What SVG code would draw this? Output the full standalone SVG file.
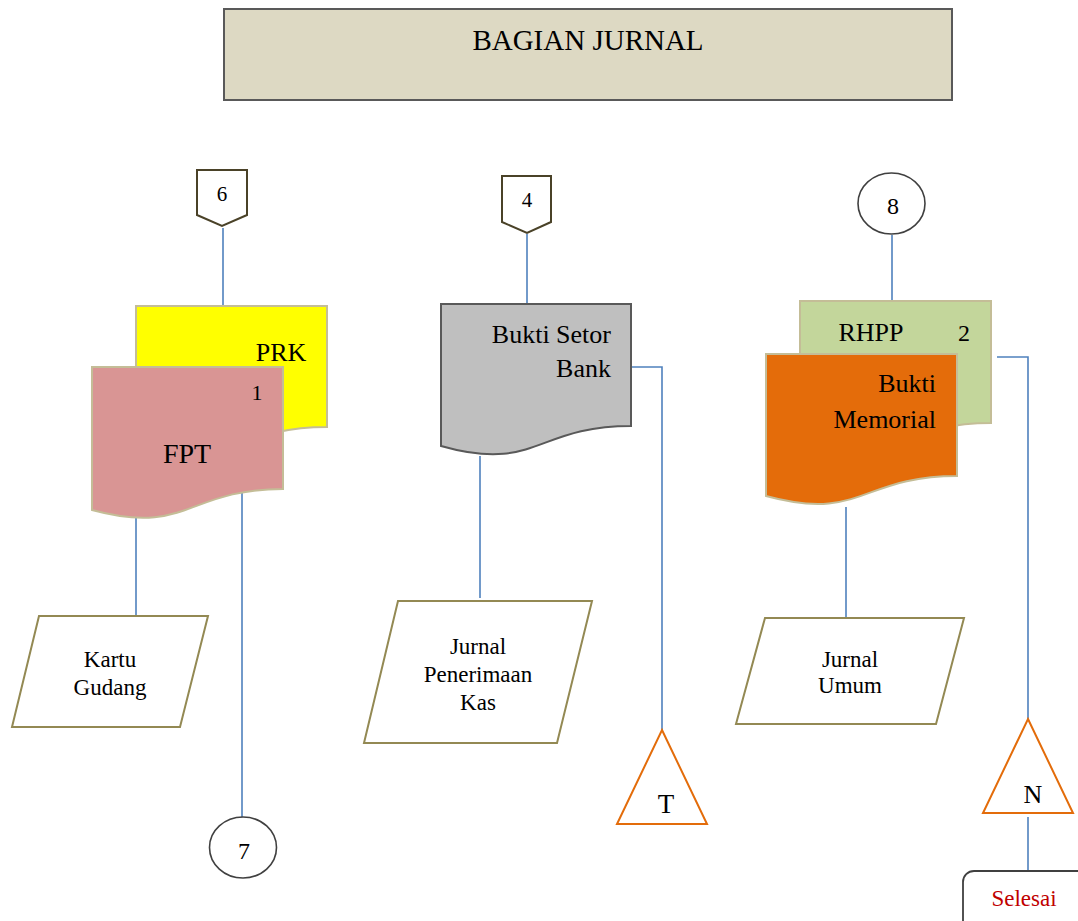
<svg xmlns="http://www.w3.org/2000/svg" width="1078" height="921" viewBox="0 0 1078 921">
<style>
text{font-family:"Liberation Serif","Times New Roman",serif;fill:#000}
.conn{stroke:#4F81BD;stroke-width:1.6;fill:none}
.doc{stroke:#C4BD97;stroke-width:2}
.para{fill:#fff;stroke:#938953;stroke-width:2}
.tri{fill:#fff;stroke:#E36C0A;stroke-width:2}
.off{fill:#fff;stroke:#4A4228;stroke-width:2}
.circ{fill:#fff;stroke:#404040;stroke-width:1.6}
.t26{font-size:26px}
.t23{font-size:23px}
.mid{text-anchor:middle}
.end{text-anchor:end}
</style>
<rect width="1078" height="921" fill="#fff"/>
<g id="title">
<rect x="224" y="9" width="728" height="91" fill="#DDD9C3" stroke="#595959" stroke-width="2"/>
<text x="588" y="50" class="mid" font-size="29">BAGIAN JURNAL</text>
</g>
<g id="connectors">
<line class="conn" x1="223" y1="228" x2="223" y2="306"/>
<line class="conn" x1="136" y1="516" x2="136" y2="616"/>
<line class="conn" x1="242" y1="490" x2="242" y2="817"/>
<line class="conn" x1="527" y1="234" x2="527" y2="305"/>
<polyline class="conn" points="631,367 662,367 662,730"/>
<line class="conn" x1="480" y1="456" x2="480" y2="598"/>
<line class="conn" x1="892" y1="235" x2="892" y2="301"/>
<polyline class="conn" points="997,357 1028,357 1028,719"/>
<line class="conn" x1="846" y1="507" x2="846" y2="618"/>
<line class="conn" x1="1028" y1="817" x2="1028" y2="871"/>
</g>
<g id="off6">
<path class="off" d="M197,170 H247 V215 L222,226 L197,215 Z"/>
<text x="222" y="201" class="mid" font-size="21">6</text>
</g>
<g id="prk">
<path class="doc" fill="#FFFF00" d="M136,306 H327 V427 C231.5,427 231.5,473 136,447 Z"/>
<text x="281" y="361" class="mid t26">PRK</text>
</g>
<g id="fpt">
<path class="doc" fill="#D99594" d="M92,367 H283 V489 C187.5,489 187.5,536 92,510 Z"/>
<text x="257" y="400" class="mid" font-size="22">1</text>
<text x="187" y="463" class="mid" font-size="28">FPT</text>
</g>
<g id="kartu">
<polygon class="para" points="39,616 208,616 180,727 12,727"/>
<text x="110" y="667" class="mid t23">Kartu</text>
<text x="110" y="695" class="mid t23">Gudang</text>
</g>
<g id="c7">
<ellipse class="circ" cx="243" cy="847.5" rx="33.5" ry="30.5"/>
<text x="244" y="859" class="mid" font-size="24">7</text>
</g>
<g id="off4">
<path class="off" d="M502,176 H551 V222 L527,233 L502,222 Z"/>
<text x="527" y="207" class="mid" font-size="21">4</text>
</g>
<g id="bsb">
<path fill="#BFBFBF" stroke="#595959" stroke-width="2" d="M441,304 H631 V426 C536,426 536,473 441,446 Z"/>
<text x="611" y="343" class="end t26">Bukti Setor</text>
<text x="611" y="377" class="end t26">Bank</text>
</g>
<g id="jpk">
<polygon class="para" points="398,601 592,601 557,743 364,743"/>
<text x="478" y="654" class="mid t23">Jurnal</text>
<text x="478" y="682" class="mid t23">Penerimaan</text>
<text x="478" y="710" class="mid t23">Kas</text>
</g>
<g id="triT">
<polygon class="tri" points="662,730 707,824 617,824"/>
<text x="666" y="813" class="mid" font-size="27">T</text>
</g>
<g id="c8">
<ellipse class="circ" cx="891.5" cy="203.5" rx="33.5" ry="30.5"/>
<text x="893" y="214" class="mid" font-size="24">8</text>
</g>
<g id="rhpp">
<path class="doc" fill="#C3D69B" d="M800,301 H991 V423 C895.5,423 895.5,469 800,443 Z"/>
<text x="871" y="341" class="mid t26">RHPP</text>
<text x="964" y="341" class="mid" font-size="24">2</text>
</g>
<g id="bm">
<path class="doc" fill="#E46C0A" d="M766,354 H957 V476 C861.5,476 861.5,522 766,496 Z"/>
<text x="936" y="392" class="end t26">Bukti</text>
<text x="936" y="428" class="end t26">Memorial</text>
</g>
<g id="ju">
<polygon class="para" points="765,618 964,618 936,724 736,724"/>
<text x="850" y="667" class="mid t23">Jurnal</text>
<text x="850" y="693" class="mid t23">Umum</text>
</g>
<g id="triN">
<polygon class="tri" points="1028,719 1073,813 983,813"/>
<text x="1033" y="803" class="mid" font-size="26">N</text>
</g>
<g id="selesai">
<rect x="963" y="871" width="130" height="70" rx="11" fill="#fff" stroke="#404040" stroke-width="1.8"/>
<text x="1024" y="906" class="mid t23" style="fill:#C00000">Selesai</text>
</g>
</svg>
